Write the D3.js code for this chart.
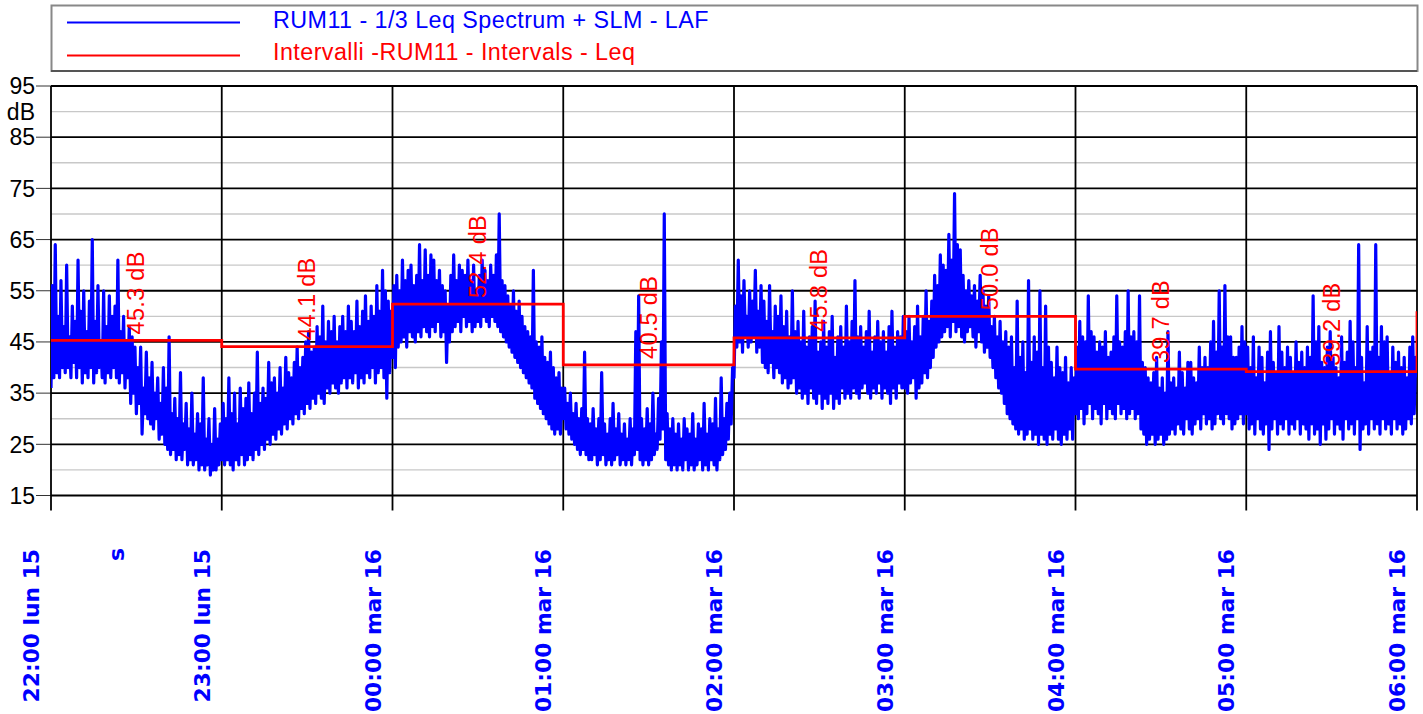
<!DOCTYPE html>
<html>
<head>
<meta charset="utf-8">
<script src="https://cdn.jsdelivr.net/npm/d3@7"></script>
<style>
	body { margin: 0; background: #fff; }
	svg { display: block; }
</style>
</head>
<body>
<div id="app"></div>
<script>
// LAF, one sample every 30 s, one array per hour
const laf22 = [36,56,38,64,39,50,38,57,40,48, 39,60,40,46,38,52,41,49,38,61, 40,51,37,55,39,47,38,53,40,65,
	37,49,39,56,40,45,38,55,37,48, 39,54,38,50,40,52,38,61,37,47, 39,50,36,45,38,48,33,46,35,44,
	31,40,33,44,27,36,31,43,30,38, 29,41,28,35,30,38,26,33,27,40, 25,36,24,46,23,31,24,34,22,30,
	23,39,22,29,24,33,21,28,22,35, 21,27,22,31,20,29,21,38,20,26, 21,30,19,25,20,32,20,26,21,29];
const laf23 = [22,33,21,30,22,38,21,31,20,35, 22,29,21,36,23,32,21,34,22,37, 23,31,22,35,24,43,23,33,25,36,
	24,34,26,41,25,37,27,38,26,35, 28,40,27,36,29,42,28,39,30,38, 29,41,31,44,30,40,32,42,31,45,
	33,47,32,43,34,44,33,48,35,46, 34,52,33,45,36,49,35,47,37,50, 36,45,35,48,37,50,38,47,36,52,
	38,49,37,47,39,53,36,48,38,51, 37,54,39,49,38,52,40,50,37,56, 39,51,40,59,38,55,34,53,39,51];
const laf00 = [42,56,40,58,44,55,45,61,46,57, 44,59,47,60,46,56,45,58,47,64, 46,57,48,63,47,58,46,62,48,61,
	47,57,49,59,46,56,47,55,41,52, 45,58,47,62,48,57,49,60,47,59, 50,58,48,61,49,57,47,60,48,55,
	49,58,48,61,50,59,49,57,48,60, 50,58,49,62,48,70,47,57,46,56, 45,54,44,52,43,55,42,51,41,53,
	40,50,39,48,38,47,37,46,36,59, 34,45,33,44,32,46,31,42,30,41, 29,43,28,40,27,38,28,39,27,36];
const laf01 = [30,36,28,33,27,35,26,31,25,33, 24,30,23,32,24,43,23,30,22,29, 22,32,23,28,21,30,22,39,23,29,
	21,27,22,30,21,33,22,28,23,31, 21,27,22,29,21,26,22,30,21,28, 23,47,24,54,22,30,21,28,22,32,
	21,29,22,35,23,27,24,34,26,45, 28,70,22,31,21,28,20,30,21,27, 20,29,21,26,20,30,22,28,20,27,
	21,31,20,26,21,29,22,28,20,33, 21,27,20,30,22,29,21,34,20,28, 22,38,23,30,24,33,26,35,29,40];
const laf02 = [38,52,44,61,45,54,43,57,46,50, 44,55,45,53,46,59,43,51,44,56, 41,53,40,49,39,56,41,47,38,52,
	40,50,39,54,37,48,38,51,36,46, 37,55,38,47,35,49,36,45,34,51, 35,44,33,46,36,48,34,53,33,43,
	35,45,32,49,34,44,33,47,35,50, 32,42,34,46,33,48,36,44,34,52, 35,45,34,49,36,57,35,46,34,48,
	36,44,37,47,35,51,34,43,36,46, 35,49,37,45,34,47,36,43,35,48, 33,51,36,44,34,47,37,46,36,50];
const laf03 = [36,47,35,50,37,45,38,48,34,52, 36,46,37,50,39,55,38,49,40,53, 42,58,44,56,45,62,46,60,47,59,
	48,66,46,61,49,74,47,64,48,63, 46,58,45,55,47,57,48,54,46,56, 44,53,47,58,45,55,43,52,44,54,
	42,48,40,50,38,46,36,49,35,45, 33,47,31,44,30,46,29,40,28,53, 27,42,28,45,26,39,27,57,28,41,
	26,46,27,43,25,55,27,40,26,52, 25,44,27,41,26,38,28,44,26,40, 25,39,27,42,26,37,28,40,26,38];
const laf04 = [31,44,30,49,32,46,29,45,31,54, 33,47,30,46,32,43,31,45,29,44, 33,47,30,42,32,43,31,46,30,54,
	33,45,31,44,32,47,30,55,31,46, 32,47,30,45,31,54,28,41,27,40, 25,38,26,37,27,39,25,42,26,36,
	27,38,25,35,26,47,27,37,28,38, 27,36,29,43,28,39,27,36,30,41, 28,41,27,38,29,37,30,44,28,40,
	31,42,29,40,30,45,28,49,29,43, 31,55,30,44,29,56,31,46,30,46, 28,42,29,42,30,44,31,48,29,45];
const laf05 = [31,44,28,40,29,46,27,38,30,44, 28,42,27,37,29,43,24,47,28,41, 30,39,27,48,29,43,28,40,30,44,
	27,42,29,39,28,45,30,41,27,43, 29,40,28,44,26,42,29,54,27,45, 28,48,25,41,29,40,26,44,28,47,
	30,42,27,40,29,38,28,46,26,41, 30,43,28,49,29,45,27,40,30,64, 24,42,28,37,29,48,27,43,30,44,
	28,64,29,42,27,48,30,45,28,46, 29,39,27,44,30,41,28,43,29,40, 27,42,28,38,30,44,29,46,31,42, 38];

const intervalLeq = [45.3, 44.1, 52.4, 40.5, 45.8, 50.0, 39.7, 39.2, 51.0];
const yMajor = [15, 25, 35, 45, 55, 65, 75, 85, 95];
const yMinor = [20, 30, 40, 50, 60, 70, 80, 90];
const yTickLabels = ["15", "25", "35", "45", "55", "65", "75", "85", "95"];
const xTickLabels = ["22:00 lun 15", "23:00 lun 15", "00:00 mar 16", "01:00 mar 16", "02:00 mar 16",
	"03:00 mar 16", "04:00 mar 16", "05:00 mar 16", "06:00 mar 16"];
const legendLabels = ["RUM11 - 1/3 Leq Spectrum + SLM - LAF", "Intervalli -RUM11 - Intervals - Leq"];

const config = {
	width: 1423,
	height: 714,
	plot: { left: 51, right: 1417, top: 86, bottom: 495.5 },
	color: { blue: "#0000ff", red: "#ff0000", grid: "#000", minor: "#c8c8c8" },
	font: "'Liberation Sans', Arial, sans-serif"
};

const startTime = new Date(2015, 5, 15, 22, 0);
const endTime = d3.timeHour.offset(startTime, 8);
const stepSeconds = 30;

const laf = [].concat(laf22, laf23, laf00, laf01, laf02, laf03, laf04, laf05)
	.map((v, i) => ({ t: d3.timeSecond.offset(startTime, i * stepSeconds), v: v }));

const intervals = intervalLeq.map((v, i) => ({ t: d3.timeHour.offset(startTime, i), v: v }));

const x = d3.scaleTime()
	.domain([startTime, endTime])
	.range([config.plot.left, config.plot.right]);

const y = d3.scaleLinear()
	.domain([15, 95])
	.range([config.plot.bottom, config.plot.top]);

const hours = d3.range(9).map(i => d3.timeHour.offset(startTime, i));

const svg = d3.select("#app").append("svg")
	.attr("width", config.width)
	.attr("height", config.height);

svg.append("clipPath")
	.attr("id", "plot-clip")
	.append("rect")
	.attr("x", config.plot.left)
	.attr("y", config.plot.top - 2)
	.attr("width", config.plot.right - config.plot.left)
	.attr("height", config.plot.bottom - config.plot.top + 4);

// minor grid
svg.append("g")
	.selectAll("line")
	.data(yMinor)
	.enter()
	.append("line")
	.attr("x1", config.plot.left)
	.attr("x2", config.plot.right)
	.attr("y1", d => y(d))
	.attr("y2", d => y(d))
	.attr("stroke", config.color.minor)
	.attr("stroke-width", 1.4);

// major grid
svg.append("g")
	.selectAll("line")
	.data(yMajor)
	.enter()
	.append("line")
	.attr("x1", config.plot.left)
	.attr("x2", config.plot.right)
	.attr("y1", d => y(d))
	.attr("y2", d => y(d))
	.attr("stroke", config.color.grid)
	.attr("stroke-width", 1.8);

// y tick marks + labels
const yAxis = svg.append("g").attr("font-family", config.font).attr("font-size", "23px");

yAxis.selectAll("line")
	.data(yMajor)
	.enter()
	.append("line")
	.attr("x1", config.plot.left - 15)
	.attr("x2", config.plot.left)
	.attr("y1", d => y(d))
	.attr("y2", d => y(d))
	.attr("stroke", "#333")
	.attr("stroke-width", 1);

yAxis.selectAll("text")
	.data(yMajor)
	.enter()
	.append("text")
	.attr("x", config.plot.left - 16)
	.attr("y", d => y(d))
	.attr("dy", "0.36em")
	.attr("text-anchor", "end")
	.text((d, i) => yTickLabels[i]);

yAxis.append("text")
	.attr("x", config.plot.left - 16)
	.attr("y", y(90))
	.attr("dy", "0.36em")
	.attr("text-anchor", "end")
	.text("dB");

// vertical hour lines with ticks below the plot
svg.append("g")
	.selectAll("line")
	.data(hours)
	.enter()
	.append("line")
	.attr("x1", d => x(d))
	.attr("x2", d => x(d))
	.attr("y1", config.plot.top)
	.attr("y2", config.plot.bottom + 15)
	.attr("stroke", config.color.grid)
	.attr("stroke-width", 1.8);

// x labels, rotated
const xAxis = svg.append("g")
	.attr("font-family", "'DejaVu Sans', Verdana, sans-serif")
	.attr("font-weight", "bold")
	.attr("font-size", "21.8px")
	.attr("fill", config.color.blue);

xAxis.selectAll("text")
	.data(hours)
	.enter()
	.append("text")
	.attr("transform", d => `translate(${x(d) - 12},549) rotate(-90)`)
	.attr("text-anchor", "end")
	.text((d, i) => xTickLabels[i]);

xAxis.append("text")
	.attr("transform", `translate(${config.plot.left + 73},548) rotate(-90)`)
	.attr("text-anchor", "end")
	.text("s");

// data
const plotG = svg.append("g").attr("clip-path", "url(#plot-clip)");

plotG.append("path")
	.datum(laf)
	.attr("d", d3.line().x(d => x(d.t)).y(d => y(d.v)))
	.attr("fill", "none")
	.attr("stroke", config.color.blue)
	.attr("stroke-width", 3.2)
	.attr("stroke-linejoin", "round");

plotG.append("path")
	.datum(intervals)
	.attr("d", d3.line().x(d => x(d.t)).y(d => y(d.v)).curve(d3.curveStepAfter))
	.attr("fill", "none")
	.attr("stroke", config.color.red)
	.attr("stroke-width", 2.8);

svg.append("g")
	.attr("font-family", config.font)
	.attr("font-size", "23.5px")
	.attr("letter-spacing", "0.3px")
	.attr("fill", config.color.red)
	.selectAll("text")
	.data(intervals.slice(0, 8))
	.enter()
	.append("text")
	.attr("transform", d => `translate(${x(d3.timeMinute.offset(d.t, 30))},${y(d.v) - 6}) rotate(-90)`)
	.attr("dominant-baseline", "central")
	.text(d => d.v.toFixed(1) + " dB");

// legend
const legend = svg.append("g").attr("font-family", config.font).attr("font-size", "23.3px").attr("letter-spacing", "0.45px");

legend.append("rect")
	.attr("x", config.plot.left + 0.5)
	.attr("y", 5.5)
	.attr("width", config.plot.right - config.plot.left)
	.attr("height", 65.5)
	.attr("fill", "#fff")
	.attr("stroke", "#888")
	.attr("stroke-width", 2);

legend.append("line")
	.attr("x1", config.plot.left)
	.attr("x2", config.plot.right)
	.attr("y1", 71)
	.attr("y2", 71)
	.attr("stroke", "#222")
	.attr("stroke-width", 1);

[config.color.blue, config.color.red].forEach((c, i) => {
	legend.append("line")
		.attr("x1", 67)
		.attr("x2", 240)
		.attr("y1", 22.5 + i * 33)
		.attr("y2", 22.5 + i * 33)
		.attr("stroke", c)
		.attr("stroke-width", 2.2);

	legend.append("text")
		.attr("x", 273)
		.attr("y", 28 + i * 32)
		.attr("fill", c)
		.text(legendLabels[i]);
});
</script>
</body>
</html>
